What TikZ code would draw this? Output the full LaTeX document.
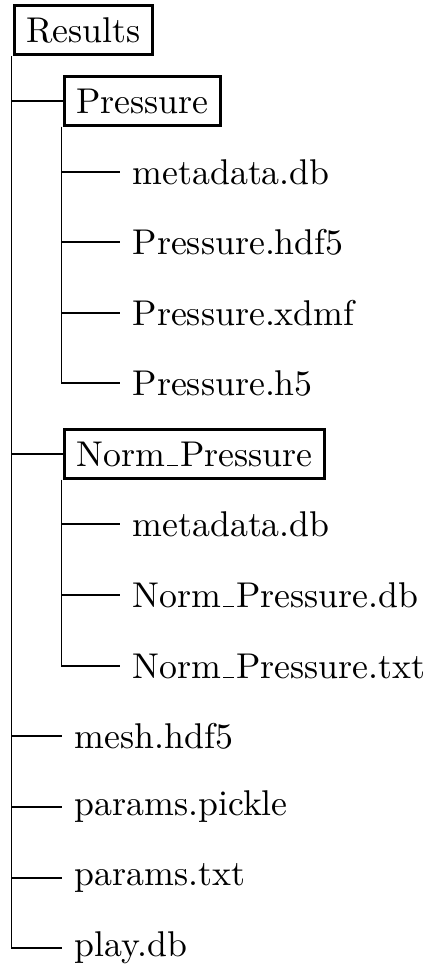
\documentclass[tikz,border=0pt]{standalone}
% short, low underscore in the style of the classic Computer Modern \_
\newcommand\usc{\leavevmode\kern.06em\vbox{\hrule width.3em}\kern.06em}
\begin{document}
\begin{tikzpicture}[x=0.2793pt,y=-0.2793pt,
  dirbox/.style={draw,line width=0.8pt,anchor=west},
  fileitem/.style={anchor=west},
  branch/.style={line width=0.5pt}]
\useasboundingbox (0,0) rectangle (424,968);

% top-level folder
\node[dirbox] (res) at (13,30) {Results};

% Pressure folder and its files
\node[dirbox] (pres) at (63,101) {Pressure};
\node[fileitem] (p1) at (120,172) {metadata.db};
\node[fileitem] (p2) at (120,242) {Pressure.hdf5};
\node[fileitem] (p3) at (120,313) {Pressure.xdmf};
\node[fileitem] (p4) at (120,383) {Pressure.h5};

% Norm_Pressure folder and its files
\node[dirbox] (norm) at (63,454) {Norm\usc Pressure};
\node[fileitem] (n1) at (120,524) {metadata.db};
\node[fileitem] (n2) at (120,595) {Norm\usc Pressure.db};
\node[fileitem] (n3) at (120,666) {Norm\usc Pressure.txt};

% files directly under Results
\node[fileitem] (f1) at (62,736) {mesh.hdf5};
\node[fileitem] (f2) at (62,807) {params.pickle};
\node[fileitem] (f3) at (62,878) {params.txt};
\node[fileitem] (f4) at (62,948) {play.db};

% tree connectors
\foreach \c in {pres,norm,f1,f2,f3,f4}
  \draw[branch] ([xshift=-0.4pt]res.south west) |- (\c.west);
\foreach \c in {p1,p2,p3,p4}
  \draw[branch] ([xshift=-0.4pt]pres.south west) |- (\c.west);
\foreach \c in {n1,n2,n3}
  \draw[branch] ([xshift=-0.4pt]norm.south west) |- (\c.west);
\end{tikzpicture}
\end{document}
